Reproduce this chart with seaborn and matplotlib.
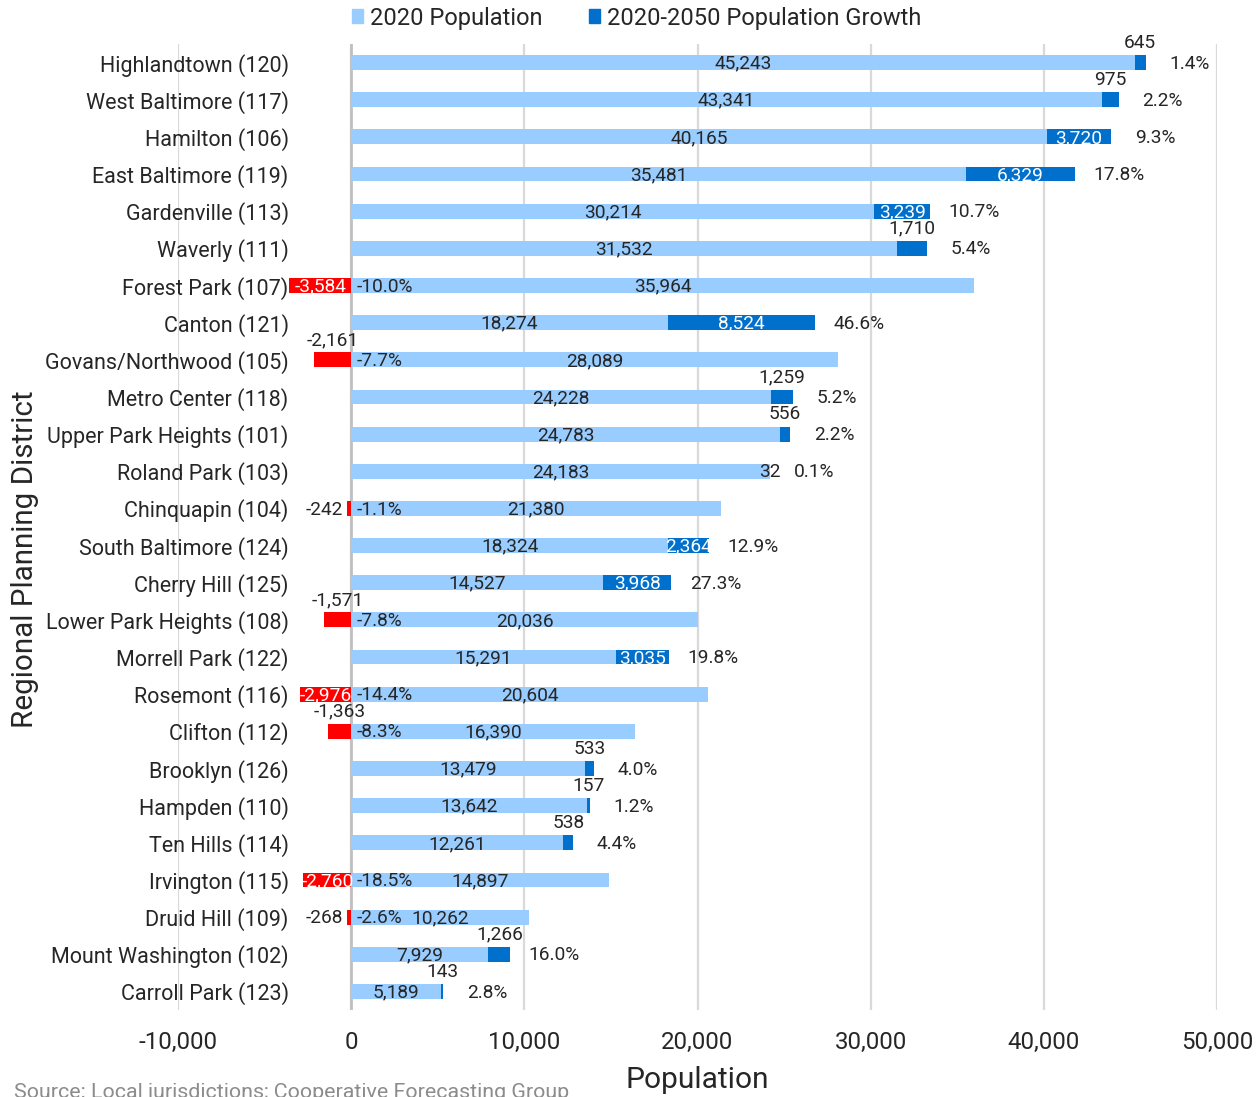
import matplotlib
matplotlib.use("Agg")
import matplotlib.pyplot as plt
from matplotlib.patches import Patch
from matplotlib.ticker import FuncFormatter
import pandas as pd
import seaborn as sns

districts = [
    "Highlandtown (120)", "West Baltimore (117)", "Hamilton (106)", "East Baltimore (119)",
    "Gardenville (113)", "Waverly (111)", "Forest Park (107)", "Canton (121)",
    "Govans/Northwood (105)", "Metro Center (118)", "Upper Park Heights (101)",
    "Roland Park (103)", "Chinquapin (104)", "South Baltimore (124)", "Cherry Hill (125)",
    "Lower Park Heights (108)", "Morrell Park (122)", "Rosemont (116)", "Clifton (112)",
    "Brooklyn (126)", "Hampden (110)", "Ten Hills (114)", "Irvington (115)",
    "Druid Hill (109)", "Mount Washington (102)", "Carroll Park (123)",
]
pop_2020 = [
    45243, 43341, 40165, 35481, 30214, 31532, 35964, 18274, 28089, 24228, 24783,
    24183, 21380, 18324, 14527, 20036, 15291, 20604, 16390, 13479, 13642, 12261,
    14897, 10262, 7929, 5189,
]
growth = [
    645, 975, 3720, 6329, 3239, 1710, -3584, 8524, -2161, 1259, 556,
    32, -242, 2364, 3968, -1571, 3035, -2976, -1363, 533, 157, 538,
    -2760, -268, 1266, 143,
]
x_ticks = [-10000, 0, 10000, 20000, 30000, 40000, 50000]

LIGHT = "#99CCFF"
DARK = "#0070CC"
RED = "#FF0000"

df = pd.DataFrame({"district": districts, "pop": pop_2020, "growth": growth})
df["total"] = df["pop"] + df["growth"].clip(lower=0)
df["loss"] = df["growth"].clip(upper=0)

sns.set_style("white")
plt.rcParams["font.family"] = ["Roboto", "DejaVu Sans"]

fig = plt.figure(figsize=(12.56, 10.97), dpi=100)
ax = fig.add_axes([178 / 1256, 1 - 1010 / 1097, 1039 / 1256, 966 / 1097])

bw = 0.4
for col, c in [("total", DARK), ("pop", LIGHT), ("loss", RED)]:
    sns.barplot(data=df, x=col, y="district", orient="h", color=c,
                saturation=1, width=bw, ax=ax, zorder=3, linewidth=0)

ax.set_xlim(-10000, 50000)
ax.set_ylim(len(df) - 0.5, -0.5)
ax.set_xticks(x_ticks)
ax.xaxis.set_major_formatter(FuncFormatter(lambda v, _: f"{v:,.0f}"))
ax.grid(axis="x", color="#D9D9D9", lw=1.6, zorder=0)
ax.grid(axis="y", visible=False)
ax.axvline(0, color="#C0C0C0", lw=2, zorder=1)
for s in ax.spines.values():
    s.set_visible(False)
ax.spines["left"].set_position(("data", 0))
ax.tick_params(axis="y", length=0, pad=45, labelsize=15.5)
ax.tick_params(axis="x", length=0, pad=15, labelsize=17.3)

ax.set_xlabel("Population", fontsize=21.5)
ax.set_ylabel("Regional Planning District", fontsize=21.3)
ax.xaxis.set_label_coords(0.5, -0.058)
ax.yaxis.set_label_coords(-0.134, 0.467)

fs = 13.8
for i, row in df.iterrows():
    p, g = row["pop"], row["growth"]
    ax.text(p / 2, i + 0.03, f"{p:,}", ha="center", va="center", fontsize=fs, zorder=5)
    pct = f"{g / p * 100:.1f}%"
    if g >= 0:
        ax.text(p + g + 2540, i + 0.03, pct, ha="center", va="center", fontsize=fs, zorder=5)
        mid = p + g / 2
    else:
        ax.text(330, i + 0.03, pct, ha="left", va="center", fontsize=fs, zorder=5)
        mid = g / 2
    lab = f"{g:,}"
    if abs(g) >= 2300:
        ax.text(mid, i + 0.03, lab, ha="center", va="center", fontsize=fs, color="white", zorder=5)
    elif g < 0 and abs(g) < 300:
        ax.text(g - 230, i + 0.03, lab, ha="right", va="center", fontsize=fs, zorder=5)
    elif abs(g) < 100:
        ax.text(mid, i + 0.03, lab, ha="center", va="center", fontsize=fs, zorder=5)
    else:
        ax.text(mid, i - 0.53, lab, ha="center", va="center", fontsize=fs, zorder=5)

handles = [Patch(color=LIGHT), Patch(color=DARK)]
fig.legend(handles, ["2020 Population", "2020-2050 Population Growth"],
           loc="center", bbox_to_anchor=(0.507, 1 - 18 / 1097), ncol=2, frameon=False,
           fontsize=17, handlelength=0.45, handleheight=0.55, handletextpad=0.3,
           columnspacing=2.0)

fig.text(14 / 1256, -0.001, "Source: Local jurisdictions; Cooperative Forecasting Group",
         fontsize=15.4, color="#8C8C8C", ha="left", va="baseline")

fig.savefig("out.png", dpi=100)
